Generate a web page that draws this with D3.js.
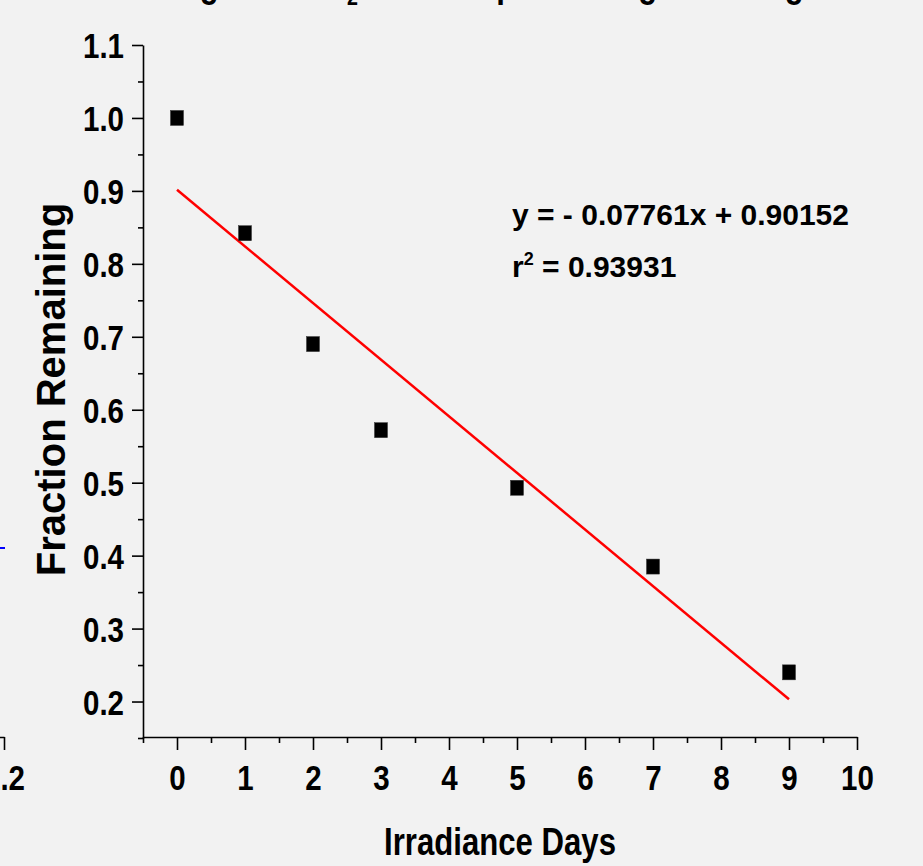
<!DOCTYPE html>
<html><head><meta charset="utf-8">
<script src="https://cdn.jsdelivr.net/npm/d3@7"></script>
<style>html,body{margin:0;padding:0;background:#f2f2f2;overflow:hidden;} svg{display:block;}</style>
</head><body>
<script>
// ---- data ----
const days = [0, 1, 2, 3, 5, 7, 9];
const fraction = [1.000, 0.842, 0.690, 0.572, 0.493, 0.385, 0.240];
const fitSlope = -0.07761;
const fitIntercept = 0.90152;
const fitDays = [0, 9];
const xTicks = [0, 1, 2, 3, 4, 5, 6, 7, 8, 9, 10];
const xMinorTicks = [-0.5, 0.5, 1.5, 2.5, 3.5, 4.5, 5.5, 6.5, 7.5, 8.5, 9.5];
const yTicks = [0.2, 0.3, 0.4, 0.5, 0.6, 0.7, 0.8, 0.9, 1.0, 1.1];
const yMinorTicks = [0.15, 0.25, 0.35, 0.45, 0.55, 0.65, 0.75, 0.85, 0.95, 1.05];
const xTitle = "Irradiance Days";
const yTitle = "Fraction Remaining";
const eqText = "y = - 0.07761x + 0.90152";
const r2Value = "0.93931";
// neighbouring panel (cut off at the left edge)
const leftPanelTicks = [1.2];
// chart title, cut off at the top edge
const titleParts = ["Change of SnO", "2", " Sheets upon Sunlight Testing"];

const W = 923, H = 866;
const NARROW = 0.82;
const FONT = "'Liberation Sans', Arial, sans-serif";

const svg = d3.select("body").append("svg").attr("width", W).attr("height", H)
  .style("background", "#f2f2f2");

const x = d3.scaleLinear().domain([-0.5, 10]).range([143, 857]);
const y = d3.scaleLinear().domain([0.15, 1.1]).range([738, 45]);
const axisY0 = 737;

// ---- partial title at the top (cut off) ----
const title = svg.append("text").attr("font-family", FONT).attr("font-weight", "bold")
  .attr("font-size", 38).attr("fill", "#000")
  .attr("transform", `translate(122,-3) scale(${NARROW},1)`);
title.append("tspan").text(titleParts[0]);
title.append("tspan").attr("font-size", 24).attr("dy", 8).text(titleParts[1]);
title.append("tspan").attr("dy", -8).text(titleParts[2]);

// ---- axes ----
function styleAxis(g) {
  g.selectAll("path.domain").attr("stroke", "#000").attr("stroke-width", 1.6);
  g.selectAll(".tick line").attr("stroke", "#000").attr("stroke-width", 1.6);
}

const gx = svg.append("g").attr("transform", `translate(0,${axisY0})`)
  .call(d3.axisBottom(x).tickValues(xTicks).tickSize(13).tickSizeOuter(0).tickFormat(d3.format("d")));
styleAxis(gx);
gx.selectAll(".tick text")
  .attr("font-family", FONT).attr("font-weight", "bold").attr("font-size", 36)
  .attr("fill", "#000").attr("y", 0).attr("dy", 0)
  .attr("transform", `translate(0,53) scale(${NARROW},1)`);
const gxm = svg.append("g").attr("transform", `translate(0,${axisY0})`)
  .call(d3.axisBottom(x).tickValues(xMinorTicks).tickSize(6).tickSizeOuter(0).tickFormat(""));
styleAxis(gxm);
gxm.select("path.domain").remove();

const gy = svg.append("g").attr("transform", "translate(143,0)")
  .call(d3.axisLeft(y).tickValues(yTicks).tickSize(11).tickSizeOuter(0).tickFormat(d3.format(".1f")));
styleAxis(gy);
gy.selectAll(".tick text")
  .attr("font-family", FONT).attr("font-weight", "bold").attr("font-size", 36)
  .attr("fill", "#000").attr("x", 0).attr("dy", "0.36em")
  .attr("transform", `translate(-19,0) scale(${NARROW},1)`);
const gym = svg.append("g").attr("transform", "translate(143,0)")
  .call(d3.axisLeft(y).tickValues(yMinorTicks).tickSize(5).tickSizeOuter(0).tickFormat(""));
styleAxis(gym);
gym.select("path.domain").remove();

// ---- axis titles ----
svg.append("text").attr("font-family", FONT).attr("font-weight", "bold").attr("font-size", 38)
  .attr("text-anchor", "middle").attr("fill", "#000")
  .attr("transform", `translate(${(x.range()[0] + x.range()[1]) / 2},855) scale(${NARROW},1)`)
  .text(xTitle);
svg.append("text").attr("font-family", FONT).attr("font-weight", "bold").attr("font-size", 40)
  .attr("text-anchor", "middle").attr("fill", "#000")
  .attr("transform", `translate(65,${(y.range()[0] + y.range()[1]) / 2 - 2}) rotate(-90)`)
  .text(yTitle);

// ---- fit line ----
svg.append("line")
  .attr("x1", x(fitDays[0])).attr("y1", y(fitIntercept + fitSlope * fitDays[0]))
  .attr("x2", x(fitDays[1])).attr("y2", y(fitIntercept + fitSlope * fitDays[1]))
  .attr("stroke", "#ff0000").attr("stroke-width", 2.5);

// ---- points ----
const pts = days.map((d, i) => ({ d, f: fraction[i] }));
svg.append("g").selectAll("rect").data(pts).join("rect")
  .attr("x", p => x(p.d) - 6.5).attr("y", p => y(p.f) - 7.5)
  .attr("width", 13).attr("height", 15)
  .attr("fill", "#000").attr("stroke", "#333").attr("stroke-width", 0.5);

// ---- equation ----
const eq = svg.append("text").attr("font-family", FONT).attr("font-weight", "bold")
  .attr("font-size", 30).attr("fill", "#000");
eq.append("tspan").attr("x", 512).attr("y", 225).text(eqText);
const r2 = svg.append("text").attr("font-family", FONT).attr("font-weight", "bold")
  .attr("font-size", 30).attr("fill", "#000").attr("x", 512).attr("y", 277);
r2.append("tspan").text("r");
r2.append("tspan").attr("font-size", 18).attr("dy", -12).text("2");
r2.append("tspan").attr("dy", 12).text(" = " + r2Value);

// ---- neighbouring panel remnant at the left edge ----
const xl = d3.scaleLinear().domain([1.0, 1.2]).range([-130, 4]);
const gl = svg.append("g").attr("transform", `translate(0,${axisY0})`)
  .call(d3.axisBottom(xl).tickValues(leftPanelTicks).tickSize(13).tickSizeOuter(0).tickFormat(d3.format(".1f")));
styleAxis(gl);
gl.selectAll(".tick text")
  .attr("font-family", FONT).attr("font-weight", "bold").attr("font-size", 36)
  .attr("fill", "#000").attr("y", 0).attr("dy", 0)
  .attr("transform", `translate(0,53) scale(${NARROW},1)`);
svg.append("line").attr("x1", xl(1.1)).attr("x2", xl(1.2) + 1).attr("y1", 548).attr("y2", 548)
  .attr("stroke", "#0000ff").attr("stroke-width", 2);
</script>
</body></html>
